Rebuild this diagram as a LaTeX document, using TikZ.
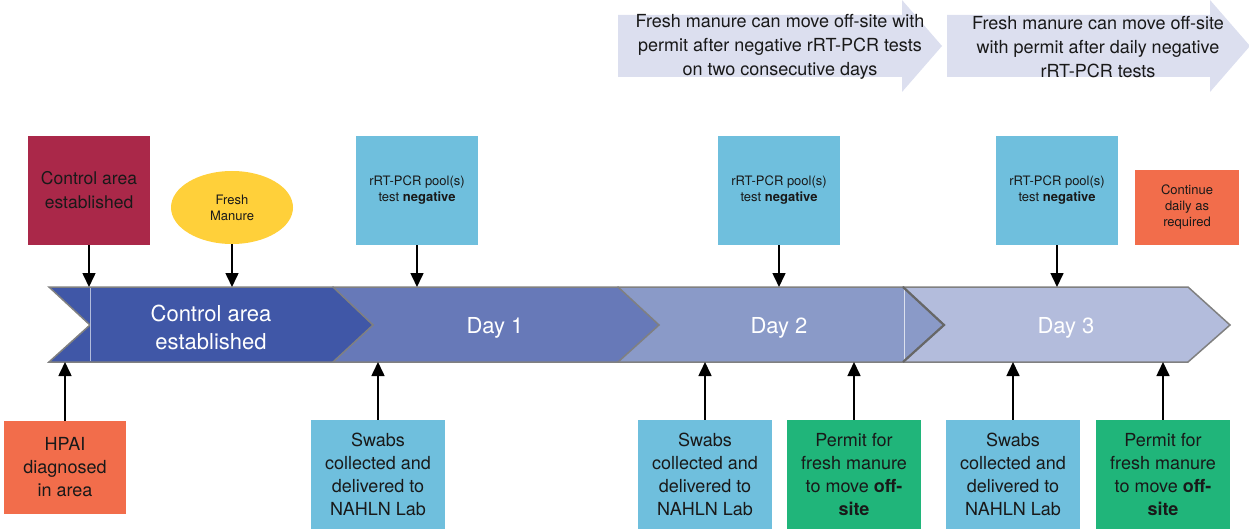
\documentclass[tikz,border=0pt]{standalone}
\usepackage{fontspec}
\setmainfont{TeX Gyre Heros}
\usetikzlibrary{arrows.meta,shapes.geometric}
\definecolor{segA}{RGB}{64,87,167}
\definecolor{segB}{RGB}{103,121,184}
\definecolor{segC}{RGB}{138,154,200}
\definecolor{segD}{RGB}{179,188,220}
\definecolor{bandline}{RGB}{128,128,128}
\definecolor{crim}{RGB}{170,40,73}
\definecolor{yel}{RGB}{255,208,58}
\definecolor{sky}{RGB}{111,191,221}
\definecolor{orng}{RGB}{242,109,75}
\definecolor{grn}{RGB}{32,181,122}
\definecolor{lav}{RGB}{220,223,239}
\definecolor{txt}{RGB}{25,25,25}
\tikzset{
  box/.style={inner sep=0pt, align=center, text=txt},
  bigtxt/.style={font=\fontsize{17.5}{24}\selectfont},
  midtxt/.style={font=\fontsize{18}{23}\selectfont},
  smalltxt/.style={font=\fontsize{13}{16}\selectfont},
  bandtxt/.style={text=white, align=center, font=\fontsize{22}{28}\selectfont},
  seg/.style={draw=bandline, line width=1.5pt, line join=miter},
  arr/.style={line width=1.6pt, -{Triangle[width=13pt,length=14pt]}},
  banner/.style={fill=lav},
}
\begin{document}
\begin{tikzpicture}[x=1pt,y=-1pt]
\useasboundingbox (0,0) rectangle (1249,529);
\coordinate (bt) at (0,287);
\coordinate (bb) at (0,362);

% banners
\fill[banner] (618,15) -- (902,15) -- (902,0) -- (942,46) -- (902,92) -- (902,77) -- (618,77) -- cycle;
\fill[banner] (947,15) -- (1210,15) -- (1210,0) -- (1250,46) -- (1210,92) -- (1210,77) -- (947,77) -- cycle;
\node[box, font=\fontsize{18}{24}\selectfont] (ban1) at (780,47) {Fresh manure can move off-site with\\permit after negative rRT-PCR tests\\on two consecutive days};
\node[box, font=\fontsize{18}{24}\selectfont] (ban2) at (1098,47) {Fresh manure can move off-site\\with permit after daily negative\\rRT-PCR tests};

% band
\filldraw[seg, fill=segD] (903,287) -- (1188,287) -- (1230,325) -- (1188,362) -- (903,362) -- cycle;
\filldraw[seg, fill=segC] (618,287) -- (903,287) -- (944,325) -- (903,362) -- (618,362) -- cycle;
\draw[white!70!segC, line width=0.6pt] (904,288) -- (904,361);
\draw[bandline!80!black, line width=2.2pt, line join=miter] (903,287) -- (944,325) -- (903,362);
\filldraw[seg, fill=segB] (333,287) -- (618,287) -- (659,325) -- (618,362) -- (333,362) -- cycle;
\filldraw[seg, fill=segA] (49,287) -- (333,287) -- (373,325) -- (333,362) -- (49,362) -- (90,325) -- cycle;
\draw[white!60!segA, line width=0.6pt] (90,288) -- (90,361);
\node[bandtxt] (t0) at (211,327) {Control area\\established};
\node[bandtxt] (t1) at (495,328) {Day 1};
\node[bandtxt] (t2) at (779,328) {Day 2};
\node[bandtxt] (t3) at (1066,328) {Day 3};

% top boxes
\node[box, bigtxt, fill=crim, minimum width=122pt, minimum height=109pt] (ca) at (89,190.5) {Control area\\established};
\node[box, smalltxt, ellipse, fill=yel, minimum width=122pt, minimum height=73pt] (fm) at (232,207.5) {Fresh\\Manure};
\node[box, smalltxt, fill=sky, minimum width=122pt, minimum height=109pt] (n1) at (417,190.5) {rRT-PCR pool(s)\\test \textbf{negative}};
\node[box, smalltxt, fill=sky, minimum width=122pt, minimum height=109pt] (n2) at (779,190.5) {rRT-PCR pool(s)\\test \textbf{negative}};
\node[box, smalltxt, fill=sky, minimum width=122pt, minimum height=109pt] (n3) at (1057,190.5) {rRT-PCR pool(s)\\test \textbf{negative}};
\node[box, smalltxt, fill=orng, minimum width=104pt, minimum height=75pt] (cont) at (1187,207.5) {Continue\\daily as\\required};

\draw[arr] (ca.south) -- (ca.south |- bt);
\draw[arr] (fm.south) -- (fm.south |- bt);
\draw[arr] (n1.south) -- (n1.south |- bt);
\draw[arr] (n2.south) -- (n2.south |- bt);
\draw[arr] (n3.south) -- (n3.south |- bt);

% bottom boxes
\node[box, midtxt, fill=orng, minimum width=122pt, minimum height=93pt] (hp) at (65,467.5) {HPAI\\diagnosed\\in area};
\node[box, midtxt, fill=sky, minimum width=134pt, minimum height=109pt] (s1) at (378,474.5) {Swabs\\collected and\\delivered to\\NAHLN Lab};
\node[box, midtxt, fill=sky, minimum width=134pt, minimum height=109pt] (s2) at (705,474.5) {Swabs\\collected and\\delivered to\\NAHLN Lab};
\node[box, midtxt, fill=grn, minimum width=134pt, minimum height=109pt] (p1) at (854,474.5) {Permit for\\fresh manure\\to move \textbf{off-}\\\textbf{site}};
\node[box, midtxt, fill=sky, minimum width=134pt, minimum height=109pt] (s3) at (1013,474.5) {Swabs\\collected and\\delivered to\\NAHLN Lab};
\node[box, midtxt, fill=grn, minimum width=134pt, minimum height=109pt] (p2) at (1163,474.5) {Permit for\\fresh manure\\to move \textbf{off-}\\\textbf{site}};

\draw[arr] (hp.north) -- (hp.north |- bb);
\draw[arr] (s1.north) -- (s1.north |- bb);
\draw[arr] (s2.north) -- (s2.north |- bb);
\draw[arr] (p1.north) -- (p1.north |- bb);
\draw[arr] (s3.north) -- (s3.north |- bb);
\draw[arr] (p2.north) -- (p2.north |- bb);
\end{tikzpicture}
\end{document}
